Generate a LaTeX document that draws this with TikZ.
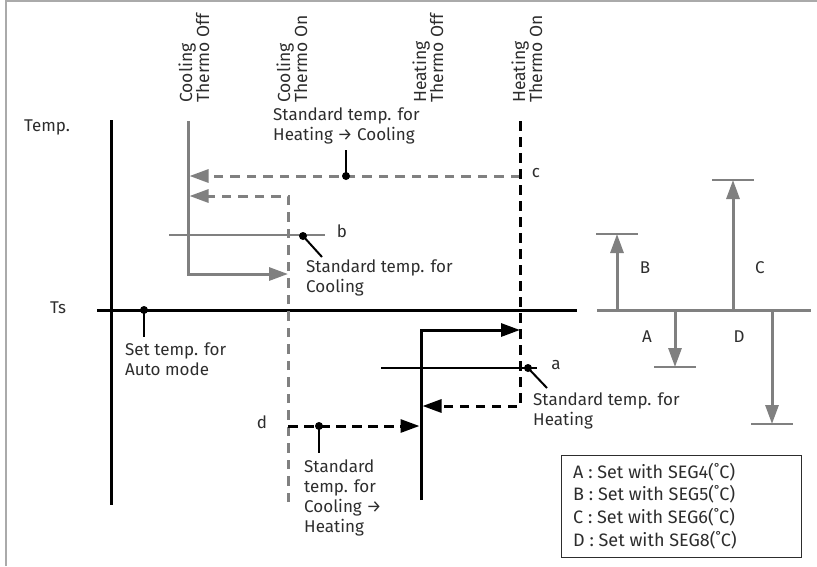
\documentclass[tikz,border=0pt]{standalone}
\usepackage{fontspec}
\setmainfont{Fira Sans}
\usetikzlibrary{arrows.meta,positioning}
\definecolor{linegray}{RGB}{128,128,128}
\definecolor{framegray}{RGB}{170,170,170}
\definecolor{textgray}{RGB}{45,45,45}

\begin{document}
\begin{tikzpicture}[x=1pt,y=-1pt,
    every node/.style={font=\fontsize{17}{20}\selectfont,inner sep=0pt,text=textgray},
    tip/.style={-{Triangle[length=19pt,width=13pt]}},
    axis/.style={line width=3pt,black},
    grayline/.style={line width=3pt,linegray},
    graydash/.style={line width=3pt,linegray,dash pattern=on 9.5pt off 7pt},
    blackdash/.style={line width=3pt,black,dash pattern=on 9.5pt off 6.5pt},
    refline/.style={line width=1.3pt},
    leader/.style={line width=2pt,black},
    vlabel/.style={rotate=90,anchor=west,align=left,font=\fontsize{17.5}{17}\selectfont},
    note/.style={anchor=north west,align=left}]
    \useasboundingbox (0,0) rectangle (817,566);
    \draw[framegray,line width=2pt] (6,566) -- (6,1) -- (817,1);
    % axes
    \coordinate (tTop) at (111,120);
    \coordinate (tBot) at (111,505);
    \coordinate (tsL) at (97,310);
    \coordinate (tsR) at (577,310);
    \draw[axis] (tTop) -- (tBot);
    \draw[axis] (tsL) -- (tsR);
    \node (temp) at (47,127) {Temp.};
    \node (ts) at (58,308) {Ts};
    % thermo lines
    \coordinate (coTop) at (188,121);
    \coordinate (coBot) at (188,274);
    \coordinate (cnTop) at (288,196);
    \coordinate (cnBot) at (288,502);
    \coordinate (hfTop) at (421,330);
    \coordinate (hfBot) at (421,500);
    \coordinate (hnTop) at (520,121);
    \coordinate (hnBot) at (520,406);
    \coordinate (cy) at (0,176);
    \coordinate (dy) at (0,426);
    \draw[grayline,tip] (coTop) -- (coBot) -- (coBot -| cnTop);
    \draw[graydash,tip,shorten >=1.5pt] (cnBot) -- (cnTop) -- (cnTop -| coTop);
    \draw[graydash,tip,shorten >=1.5pt] (hnTop |- cy) -- (coTop |- cy);
    \draw[blackdash,tip,shorten >=1.5pt] (hnTop) -- (hnBot) -- (hnBot -| hfTop);
    \draw[axis,tip] (hfBot) -- (hfTop) -- (hfTop -| hnTop);
    \draw[blackdash,tip,shorten >=1.5pt] (cnBot |- dy) -- (hfTop |- dy);
    \node[vlabel] (coLab) at (194,103) {Cooling\\Thermo Off};
    \node[vlabel] (cnLab) at (292,103) {Cooling\\Thermo On};
    \node[vlabel] (hfLab) at (428,103) {Heating\\Thermo Off};
    \node[vlabel] (hnLab) at (527,103) {Heating\\Thermo On};
    % reference temperatures
    \draw[refline,linegray] (169,235) -- (325,235);
    \draw[refline] (381,368) -- (537,368);
    \node (bLab) at (342,231) {b};
    \node (cLab) at (536,173) {c};
    \node (aLab) at (556,365) {a};
    \node (dLab) at (262,422) {d};
    \coordinate (cDot) at (346,176);
    \coordinate (bDot) at (303,236);
    \coordinate (aDot) at (528,368);
    \coordinate (dDot) at (319,426);
    \coordinate (sDot) at (144,310);
    \foreach \p in {cDot,bDot,aDot,dDot,sDot} {
        \fill[black] (\p) circle (4pt);
    }
    \draw[leader] (cDot) -- ++(0,-26);
    \draw[leader] (bDot) -- ++(19,21);
    \draw[leader] (aDot) -- ++(19,20);
    \draw[leader] (dDot) -- ++(0,27);
    \draw[leader] (sDot) -- ++(0,27);
    \node[note] (hcText) at (273,108) {Standard temp. for\\Heating → Cooling};
    \node[note] (coolText) at (306,260) {Standard temp. for\\Cooling};
    \node[note] (heatText) at (533,393) {Standard temp. for\\Heating};
    \node[note] (autoText) at (125,343) {Set temp. for\\Auto mode};
    \node[note] (chText) at (304,460) {Standard\\temp. for\\Cooling →\\Heating};
    % SEG offsets
    \draw[grayline] (597,310) -- (811,310);
    \foreach \x/\y in {617/234, 675/367, 733/180, 772/424} {
        \draw[grayline,tip] (\x,310) -- (\x,\y);
        \draw[refline,linegray] (\x-21,\y) -- (\x+21,\y);
    }
    \node (bSeg) at (645,268) {B};
    \node (cSeg) at (760,268) {C};
    \node (aSeg) at (647,337) {A};
    \node (dSeg) at (739,337) {D};
    \draw[line width=1pt,textgray] (561,455) rectangle (801,557);
    \node[anchor=west,align=left,font=\fontsize{18}{22.7}\selectfont] (legend) at (573,506)
        {A : Set with SEG4(˚C)\\B : Set with SEG5(˚C)\\C : Set with SEG6(˚C)\\D : Set with SEG8(˚C)};
\end{tikzpicture}
\end{document}
